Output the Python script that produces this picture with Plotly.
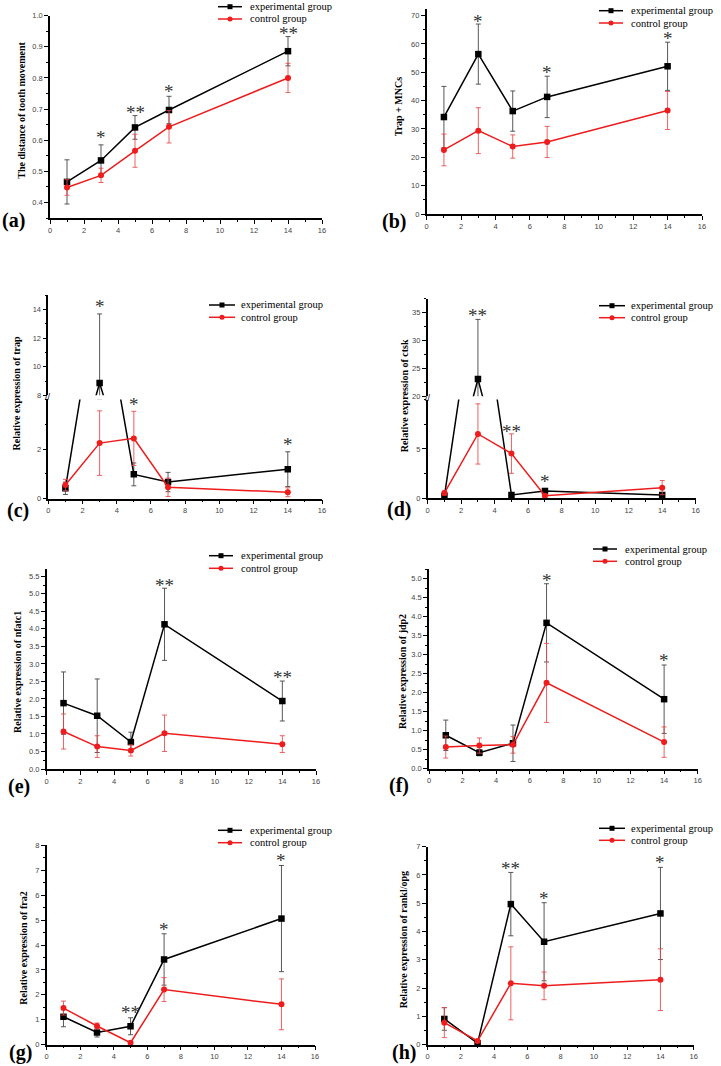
import plotly.graph_objects as go

W, H = 721, 1066

# ---------------- data ----------------
days = [1, 3, 5, 7, 14]

a_exp = [0.466, 0.535, 0.641, 0.697, 0.886]
a_exp_err = [0.071, 0.050, 0.038, 0.044, 0.047]
a_ctl = [0.448, 0.487, 0.566, 0.643, 0.800]
a_ctl_err = [0.025, 0.023, 0.053, 0.052, 0.047]

b_exp = [34.2, 56.4, 36.3, 41.3, 52.1]
b_exp_err = [10.8, 10.6, 7.1, 7.3, 8.5]
b_ctl = [22.6, 29.4, 23.8, 25.4, 36.5]
b_ctl_err = [5.6, 8.1, 4.1, 5.5, 6.7]

c_exp = [0.42, 8.86, 0.98, 0.67, 1.19]
c_exp_err = [0.25, 4.84, 0.46, 0.39, 0.70]
c_ctl = [0.55, 2.24, 2.43, 0.46, 0.26]
c_ctl_err = [0.23, 1.30, 1.09, 0.37, 0.18]

d_exp = [0.25, 23.1, 0.34, 0.74, 0.34]
d_exp_err = [0.10, 10.7, 0.10, 0.26, 0.10]
d_ctl = [0.54, 6.52, 4.53, 0.27, 1.08]
d_ctl_err = [0.20, 3.05, 2.00, 0.15, 0.72]

e_exp = [1.88, 1.52, 0.77, 4.13, 1.94]
e_exp_err = [0.89, 1.05, 0.28, 1.03, 0.57]
e_ctl = [1.07, 0.64, 0.53, 1.02, 0.71]
e_ctl_err = [0.50, 0.31, 0.16, 0.52, 0.24]

f_exp = [0.88, 0.42, 0.67, 3.84, 1.83]
f_exp_err = [0.40, 0.08, 0.48, 1.03, 0.90]
f_ctl = [0.57, 0.61, 0.63, 2.26, 0.70]
f_ctl_err = [0.29, 0.20, 0.22, 1.04, 0.40]

g_exp = [1.12, 0.49, 0.74, 3.42, 5.06]
g_exp_err = [0.40, 0.18, 0.34, 1.03, 2.13]
g_ctl = [1.47, 0.75, 0.08, 2.21, 1.62]
g_ctl_err = [0.28, 0.12, 0.05, 0.48, 1.02]

h_exp = [0.91, 0.05, 4.97, 3.64, 4.64]
h_exp_err = [0.40, 0.03, 1.12, 1.38, 1.63]
h_ctl = [0.78, 0.13, 2.17, 2.08, 2.30]
h_ctl_err = [0.53, 0.05, 1.29, 0.49, 1.09]

# significance marks: (day, y, text[, which axis segment])
a_sig = [(3, 0.617, "*"), (5, 0.700, "**"), (7, 0.767, "*"), (14, 0.954, "**")]
b_sig = [(3, 69.0, "*"), (7, 50.9, "*"), (14, 62.8, "*")]
c_sig = [(3, 14.4, "*", "up"), (5, 3.9, "*", "lo"), (14, 2.32, "*", "lo")]
d_sig = [(3, 35.0, "**", "up"), (5, 7.1, "**", "lo"), (7, 2.03, "*", "lo")]
e_sig = [(7, 5.33, "**"), (14, 2.69, "**")]
f_sig = [(7, 5.04, "*"), (14, 2.92, "*")]
g_sig = [(5, 1.42, "**"), (7, 4.74, "*"), (14, 7.5, "*")]
h_sig = [(5, 6.35, "**"), (7, 5.28, "*"), (14, 6.55, "*")]

y_titles = ["The distance of tooth movement", "Trap + MNCs",
            "Relative expression of trap", "Relative expression of ctsk",
            "Relative expression of nfatc1", "Relative expression of jdp2",
            "Relative expression of fra2", "Relative expression of rankl/opg"]
panel_tags = ["(a)", "(b)", "(c)", "(d)", "(e)", "(f)", "(g)", "(h)"]
series_names = ["experimental group", "control group"]

# ---------------- styling / layout geometry (pixels) ----------------
BLACK = "#000000"
RED = "#ee1c1c"
SERIF = "Liberation Serif, Times New Roman, serif"
SANS = "Liberation Sans, Arial, sans-serif"


def px(x):
    return x / W


def py(y):
    return 1 - y / H


panels = [
    dict(exp=a_exp, ee=a_exp_err, ctl=a_ctl, ce=a_ctl_err, sig=a_sig,
         xd=(50, 322), yd=(15.7, 218), yr=[0.35, 1.0], tick0=0.4, dtick=0.1, fmt=".1f",
         title=(20.7, 110), tag=(0, 220), leg=(218, 242, 248, 6.7, 19.0)),
    dict(exp=b_exp, ee=b_exp_err, ctl=b_ctl, ce=b_ctl_err, sig=b_sig,
         xd=(426.7, 702), yd=(9.3, 214), yr=[0, 72.2], tick0=0, dtick=10, fmt="d",
         title=(398.3, 106), tag=(380, 221.7), leg=(599, 623, 629.3, 10.7, 23.0)),
    dict(exp=c_exp, ee=c_exp_err, ctl=c_ctl, ce=c_ctl_err, sig=c_sig, broken=True,
         xd=(48.3, 322), yd=(399.4, 498.7), yr=[0, 4], tvals=[0, 2],
         yd2=(295.4, 395.3), yr2=[8, 15], tvals2=[8, 10, 12, 14], minor=1, minor2=1,
         title=(16, 393.5), tag=(5, 510.7), leg=(209, 235, 239, 305, 317.3)),
    dict(exp=d_exp, ee=d_exp_err, ctl=d_ctl, ce=d_ctl_err, sig=d_sig, broken=True,
         xd=(427.7, 695.7), yd=(399.6, 498.3), yr=[0, 10], tvals=[0, 5],
         yd2=(298.8, 396.3), yr2=[20, 37.5], tvals2=[20, 25, 30, 35], minor=2.5, minor2=2.5,
         title=(404.3, 396), tag=(385, 509.3), leg=(599, 625, 629, 305.7, 317.7)),
    dict(exp=e_exp, ee=e_exp_err, ctl=e_ctl, ce=e_ctl_err, sig=e_sig,
         xd=(46.7, 316), yd=(569.3, 769), yr=[0, 5.7], tick0=0, dtick=0.5, fmt=".1f",
         title=(17.3, 671.7), tag=(6, 786.7), leg=(209, 233, 238.7, 555.7, 568.3)),
    dict(exp=f_exp, ee=f_exp_err, ctl=f_ctl, ce=f_ctl_err, sig=f_sig,
         xd=(429, 697.7), yd=(569.3, 768.7), yr=[0, 5.25], tick0=0, dtick=0.5, fmt=".1f",
         title=(402.3, 671.7), tag=(387, 785.3), leg=(593, 617, 623.3, 549, 561.3)),
    dict(exp=g_exp, ee=g_exp_err, ctl=g_ctl, ce=g_ctl_err, sig=g_sig,
         xd=(46.7, 315), yd=(845.3, 1044.7), yr=[0, 8], tick0=0, dtick=1, fmt="d",
         title=(22.7, 948), tag=(7, 1052.5), leg=(218, 242, 248.3, 830.3, 842.7)),
    dict(exp=h_exp, ee=h_exp_err, ctl=h_ctl, ce=h_ctl_err, sig=h_sig,
         xd=(427.7, 693.7), yd=(846.7, 1044.7), yr=[0, 7], tick0=0, dtick=1, fmt="d",
         title=(403.3, 940), tag=(390, 1052.5), leg=(599, 625, 629.3, 828.3, 840.3)),
]

fig = go.Figure()
layout = dict(width=W, height=H, margin=dict(l=0, r=0, t=0, b=0, autoexpand=False),
              paper_bgcolor="white", plot_bgcolor="white", showlegend=False,
              font=dict(family=SERIF, color="black"))
annotations = []
shapes = []

tickfont = dict(family=SANS, size=7.5, color="#444444")
minor_base = dict(ticklen=2, ticks="outside", tickcolor="black", tickwidth=1)
axis_common = dict(showline=True, linecolor="black", linewidth=1.5, ticks="outside",
                   ticklen=4, tickwidth=1, tickcolor="black", showgrid=False,
                   zeroline=False, tickfont=tickfont, mirror=False, automargin=False)

extra_y = 9
for i, p in enumerate(panels, start=1):
    sx = "" if i == 1 else str(i)
    xname, yname = "x" + sx, "y" + sx
    broken = p.get("broken", False)
    layout["xaxis" + sx] = dict(axis_common, domain=[px(p["xd"][0]), px(p["xd"][1])],
                                range=[0, 16], dtick=2, tick0=0, anchor=yname,
                                minor=dict(minor_base, dtick=1))
    ydict = dict(axis_common, domain=[py(p["yd"][1]), py(p["yd"][0])], range=p["yr"],
                 anchor=xname)
    if broken:
        ydict.update(tickmode="array", tickvals=p["tvals"],
                     minor=dict(minor_base, dtick=p["minor"]))
    else:
        ydict.update(tick0=p["tick0"], dtick=p["dtick"], tickformat=p["fmt"],
                     minor=dict(minor_base, dtick=p["dtick"] / 2, tick0=p["tick0"]))
    layout["yaxis" + sx] = ydict
    yaxes = [yname]
    if broken:
        yn2 = "y" + str(extra_y)
        layout["yaxis" + str(extra_y)] = dict(axis_common,
                                              domain=[py(p["yd2"][1]), py(p["yd2"][0])],
                                              range=p["yr2"], anchor=xname,
                                              tickmode="array", tickvals=p["tvals2"],
                                              minor=dict(minor_base, dtick=p["minor2"]))
        yaxes.append(yn2)
        p["yup"] = yn2
        extra_y += 1

    for yn in yaxes:
        for name, vals, errs, col, sym, ecol in [
            (series_names[0], p["exp"], p["ee"], BLACK, "square", "rgba(70,70,70,0.9)"),
            (series_names[1], p["ctl"], p["ce"], RED, "circle", "rgba(235,70,70,0.85)"),
        ]:
            fig.add_trace(go.Scatter(
                x=days, y=vals, name=name, mode="lines+markers",
                line=dict(color=col, width=1.5),
                marker=dict(color=col, symbol=sym, size=6.5 if sym == "square" else 6),
                error_y=dict(type="data", array=errs, visible=True, color=ecol,
                             thickness=1, width=2.5),
                xaxis=xname, yaxis=yn, showlegend=False,
                cliponaxis=broken,
            ))

    # legend key (drawn per panel)
    lx0, lx1, tx, r1, r2 = p["leg"]
    for (name, col, kind), ry in zip([(series_names[0], BLACK, "rect"),
                                      (series_names[1], RED, "circle")], [r1, r2]):
        shapes.append(dict(type="line", xref="paper", yref="paper",
                           x0=px(lx0), x1=px(lx1), y0=py(ry), y1=py(ry),
                           line=dict(color=col, width=1.5)))
        cx = px((lx0 + lx1) / 2)
        shapes.append(dict(type=kind, xref="paper", yref="paper",
                           xsizemode="pixel", ysizemode="pixel",
                           xanchor=cx, yanchor=py(ry),
                           x0=-2.5, x1=2.5, y0=-2.5, y1=2.5,
                           fillcolor=col, line=dict(color=col, width=0)))
        annotations.append(dict(x=px(tx), y=py(ry), xref="paper", yref="paper",
                                text=name, showarrow=False, xanchor="left",
                                yanchor="middle",
                                font=dict(family=SERIF, size=10.5, color="black")))

    # significance stars
    for s in p["sig"]:
        yref = p["yup"] if (len(s) == 4 and s[3] == "up") else yname
        annotations.append(dict(x=s[0], y=s[1], xref=xname, yref=yref, text=s[2],
                                showarrow=False, yanchor="middle", xanchor="center",
                                yshift=-3,
                                font=dict(family=SERIF, size=19, color="#333333")))
    # y-axis title
    tx_, ty_ = p["title"]
    annotations.append(dict(x=px(tx_), y=py(ty_), xref="paper", yref="paper",
                            text="<b>" + y_titles[i - 1] + "</b>", textangle=-90,
                            showarrow=False, xanchor="center", yanchor="middle",
                            font=dict(family=SERIF, size=10, color="black")))
    # panel tag
    gx, gy = p["tag"]
    annotations.append(dict(x=px(gx), y=py(gy), xref="paper", yref="paper",
                            text="<b>" + panel_tags[i - 1] + "</b>", showarrow=False,
                            xanchor="left", yanchor="middle",
                            font=dict(family=SERIF, size=20, color="black")))
    # axis break mark
    if broken:
        yb = (p["yd"][0] + p["yd2"][1]) / 2
        annotations.append(dict(x=px(p["xd"][0]), y=py(yb), xref="paper", yref="paper",
                                text="//", showarrow=False, xanchor="center",
                                yanchor="middle",
                                font=dict(family=SANS, size=9, color="black")))

layout["annotations"] = annotations
layout["shapes"] = shapes
fig.update_layout(**layout)
fig.write_html("out.html", config={"displayModeBar": False},
               post_script="document.body.style.margin='0';document.body.style.padding='0';")
